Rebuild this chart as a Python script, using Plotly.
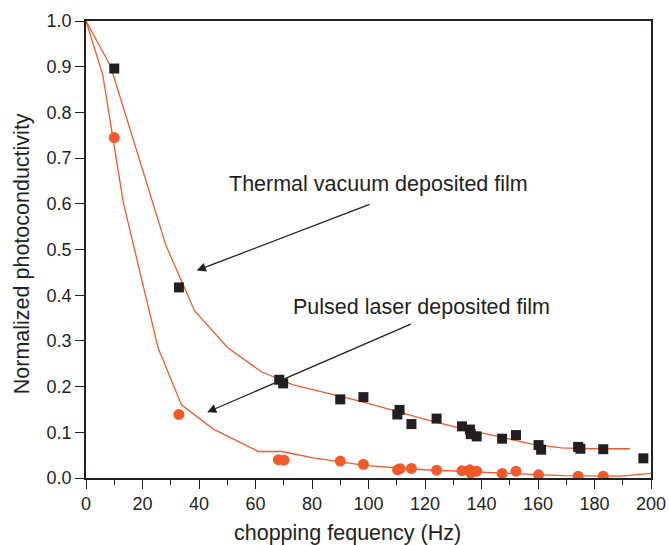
import plotly.graph_objects as go

# Measured photoconductivity (normalized) vs chopping frequency
thermal_freq = [10, 32.9, 68.4, 69.8, 90.0, 98.2, 111.0, 110.2, 115.2, 124.1, 133.1,
                135.9, 136.2, 138.3, 147.3, 152.2, 160.2, 161.1, 174.2, 175.0, 183.1, 197.3]
thermal_pc = [0.896, 0.417, 0.215, 0.207, 0.172, 0.177, 0.149, 0.139, 0.118, 0.130, 0.113,
              0.106, 0.096, 0.091, 0.086, 0.094, 0.072, 0.062, 0.068, 0.064, 0.063, 0.043]

pulsed_freq = [10, 32.9, 68.1, 70.1, 90.0, 98.2, 110.3, 111.2, 115.2, 124.1, 133.1,
               135.9, 136.2, 138.3, 147.3, 152.2, 160.2, 174.2, 183.1]
pulsed_pc = [0.745, 0.139, 0.040, 0.039, 0.037, 0.030, 0.018, 0.0205, 0.021, 0.017, 0.016,
             0.018, 0.011, 0.015, 0.010, 0.015, 0.007, 0.004, 0.004]

# Fitted decay curves
thermal_fit_freq = [0, 8.7, 28.3, 38.4, 50.2, 62.2, 73.4, 85, 97, 110, 122, 134, 146,
                    158, 168.4, 180, 192.6]
thermal_fit_pc = [1.0, 0.901, 0.509, 0.366, 0.285, 0.232, 0.204, 0.186, 0.168, 0.146,
                  0.125, 0.107, 0.090, 0.074, 0.066, 0.064, 0.064]

pulsed_fit_freq = [0, 5.9, 13.2, 25.5, 33.8, 45.1, 61.1, 69.3, 80.5, 99.3, 120, 140,
                   155, 169, 189, 200]
pulsed_fit_pc = [1.0, 0.883, 0.603, 0.285, 0.160, 0.107, 0.058, 0.058, 0.044, 0.027,
                 0.018, 0.013, 0.010, 0.005, 0.004, 0.010]

x_ticks = [0, 20, 40, 60, 80, 100, 120, 140, 160, 180, 200]
y_ticks = [0.0, 0.1, 0.2, 0.3, 0.4, 0.5, 0.6, 0.7, 0.8, 0.9, 1.0]

INK = "#231f20"
ORANGE = "#f1592a"
FONT = "Liberation Sans, Arial, sans-serif"

fig = go.Figure()

fig.add_trace(go.Scatter(x=thermal_fit_freq, y=thermal_fit_pc, mode="lines",
                         line=dict(color=ORANGE, width=1.3), showlegend=False))
fig.add_trace(go.Scatter(x=pulsed_fit_freq, y=pulsed_fit_pc, mode="lines",
                         line=dict(color=ORANGE, width=1.3), showlegend=False))
fig.add_trace(go.Scatter(x=thermal_freq, y=thermal_pc, mode="markers",
                         marker=dict(symbol="square", size=10, color=INK),
                         showlegend=False))
fig.add_trace(go.Scatter(x=pulsed_freq, y=pulsed_pc, mode="markers",
                         marker=dict(symbol="circle", size=11, color=ORANGE),
                         showlegend=False))

axis_common = dict(
    showgrid=False, zeroline=False, showline=True, linecolor=INK, linewidth=1.6,
    mirror=True, ticks="outside", ticklen=9, tickwidth=1.4, tickcolor=INK,
    tickfont=dict(family=FONT, size=18, color=INK), automargin=False,
)

fig.update_xaxes(range=[0, 200], tickvals=x_ticks, ticktext=[str(v) for v in x_ticks],
                 minor=dict(dtick=10, ticks="outside", ticklen=5, tickwidth=1.4,
                            tickcolor=INK),
                 **axis_common)
fig.update_yaxes(range=[0, 1.0], tickvals=y_ticks,
                 ticktext=[f"{v:.1f}" for v in y_ticks], **axis_common)

annotations = [
    # axis titles
    dict(text="chopping fequency (Hz)", xref="paper", yref="paper",
         x=0.4628, y=-0.1195, xanchor="center", yanchor="middle", showarrow=False,
         font=dict(family=FONT, size=21.5, color=INK)),
    dict(text="Normalized photoconductivity", xref="paper", yref="paper",
         x=-0.113, y=0.49, xanchor="center", yanchor="middle", textangle=-90,
         showarrow=False, font=dict(family=FONT, size=21.5, color=INK)),
    # curve labels
    dict(text="Thermal vacuum deposited film", xref="x", yref="y",
         x=103.5, y=0.643, xanchor="center", yanchor="middle", showarrow=False,
         font=dict(family=FONT, size=21.5, color=INK)),
    dict(text="Pulsed laser deposited film", xref="x", yref="y",
         x=118.8, y=0.375, xanchor="center", yanchor="middle", showarrow=False,
         font=dict(family=FONT, size=21.5, color=INK)),
    # arrows
    dict(x=39.2, y=0.454, ax=100.9, ay=0.600, xref="x", yref="y", axref="x", ayref="y",
         text="", showarrow=True, arrowhead=2, arrowsize=1.4, arrowwidth=1.3,
         arrowcolor=INK),
    dict(x=42.9, y=0.144, ax=115.5, ay=0.338, xref="x", yref="y", axref="x", ayref="y",
         text="", showarrow=True, arrowhead=2, arrowsize=1.4, arrowwidth=1.3,
         arrowcolor=INK),
]

fig.update_layout(
    width=669, height=545,
    margin=dict(l=86, r=18, t=21, b=67),
    paper_bgcolor="white", plot_bgcolor="white",
    font=dict(family=FONT, color=INK),
    annotations=annotations,
    showlegend=False,
)

fig.write_html("out.html")
